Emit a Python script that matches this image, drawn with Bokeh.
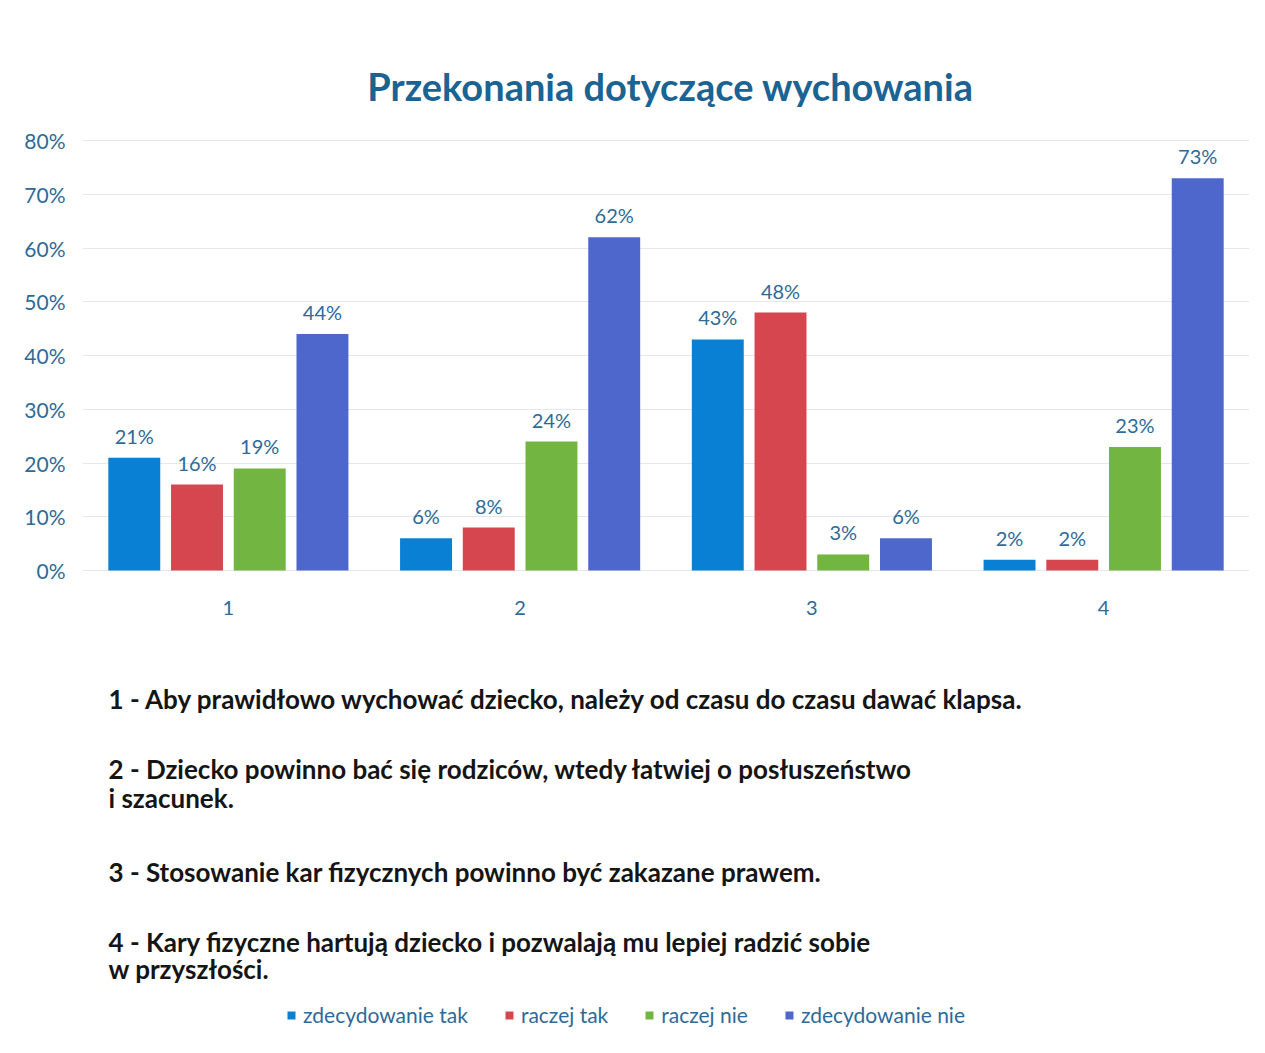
from bokeh.plotting import figure
from bokeh.models import (ColumnDataSource, FactorRange, NumeralTickFormatter, FixedTicker,
                          Label, Legend, LegendItem, Range1d)
from bokeh.transform import dodge
from bokeh.core.properties import value
from bokeh.embed import file_html
from bokeh.resources import INLINE

categories = ["1", "2", "3", "4"]
series_names = ["zdecydowanie tak", "raczej tak", "raczej nie", "zdecydowanie nie"]
zdecydowanie_tak = [0.21, 0.06, 0.43, 0.02]
raczej_tak = [0.16, 0.08, 0.48, 0.02]
raczej_nie = [0.19, 0.24, 0.03, 0.23]
zdecydowanie_nie = [0.44, 0.62, 0.06, 0.73]
y_ticks = [0.0, 0.1, 0.2, 0.3, 0.4, 0.5, 0.6, 0.7, 0.8]
title_text = "Przekonania dotyczące wychowania"
notes = [
    "1 - Aby prawidłowo wychować dziecko, należy od czasu do czasu dawać klapsa.",
    "2 - Dziecko powinno bać się rodziców, wtedy łatwiej o posłuszeństwo",
    "i szacunek.",
    "3 - Stosowanie kar fizycznych powinno być zakazane prawem.",
    "4 - Kary fizyczne hartują dziecko i pozwalają mu lepiej radzić sobie",
    "w przyszłości.",
]

colors = ["#0a80d4", "#d6464f", "#72b641", "#4d67cc"]
label_color = "#2e6a98"
FONT = "Lato"

W, H = 1249, 1035
PLOT_TOP, PLOT_BOTTOM = 140, 570          # pixel rows of the 80% and 0% gridlines
px_per_unit = (PLOT_BOTTOM - PLOT_TOP) / 0.8

series_values = [zdecydowanie_tak, raczej_tak, raczej_nie, zdecydowanie_nie]
data = {"cat": categories, "zero": [0.0] * len(categories)}
keys = ["s0", "s1", "s2", "s3"]
for k, v in zip(keys, series_values):
    data[k] = v
    data[k + "_lbl"] = ["{:.0f}%".format(x * 100) for x in v]
source = ColumnDataSource(data)

y_range = Range1d(-(H - PLOT_BOTTOM) / px_per_unit, 0.8 + PLOT_TOP / px_per_unit)
p = figure(x_range=FactorRange(*categories), y_range=y_range,
           width=W, height=H, output_backend="svg", toolbar_location=None,
           min_border_left=82, min_border_right=0, min_border_top=0, min_border_bottom=0)
p.outline_line_color = None
p.background_fill_color = "white"
p.xaxis.visible = False

offsets = [-0.3225, -0.1075, 0.1075, 0.3225]
renderers = []
for k, off, c in zip(keys, offsets, colors):
    r = p.vbar(x=dodge("cat", off, range=p.x_range), top=k, width=0.178, bottom=0,
               source=source, fill_color=c, line_color=None)
    renderers.append(r)
    p.text(x=dodge("cat", off, range=p.x_range), y=k, text=k + "_lbl", source=source,
           text_align="center", text_baseline="bottom", y_offset=-10,
           text_font=value(FONT), text_font_size="20px", text_color=label_color)

# category labels under the groups
p.text(x="cat", y="zero", text="cat", source=source, y_offset=37,
       text_align="center", text_baseline="middle",
       text_font=value(FONT), text_font_size="20px", text_color=label_color)

p.yaxis.ticker = FixedTicker(ticks=y_ticks)
p.yaxis.formatter = NumeralTickFormatter(format="0%")
p.yaxis.axis_line_color = None
p.yaxis.major_tick_line_color = None
p.yaxis.minor_tick_line_color = None
p.yaxis.major_label_text_font = FONT
p.yaxis.major_label_text_font_size = "21px"
p.yaxis.major_label_text_color = label_color
p.yaxis.major_label_standoff = 11

p.xgrid.grid_line_color = None
p.ygrid.grid_line_color = "#e4e8ee"

# title (screen units, measured from frame bottom-left)
p.add_layout(Label(x=588, y=H - 85, x_units="screen", y_units="screen", text=title_text,
                   text_font=FONT, text_font_style="bold", text_font_size="38px",
                   text_color="#1b6393", text_align="center", text_baseline="middle"))

note_rows = [698, 768, 797, 871, 941, 968]
for t, yy in zip(notes, note_rows):
    p.add_layout(Label(x=26, y=H - yy, x_units="screen", y_units="screen", text=t,
                       text_font=FONT, text_font_style="bold",
                       text_font_size="26px", text_color="#151515",
                       text_align="left", text_baseline="middle"))

legend = Legend(items=[LegendItem(label=n, renderers=[r]) for n, r in zip(series_names, renderers)],
                orientation="horizontal", location=(204, 8),
                label_text_font=FONT, label_text_font_size="21px", label_text_color=label_color,
                glyph_width=10, glyph_height=10, label_standoff=7, spacing=36,
                padding=0, margin=0,
                border_line_color=None, background_fill_alpha=0)
p.add_layout(legend)

open("out.html", "w").write(file_html(p, INLINE))
